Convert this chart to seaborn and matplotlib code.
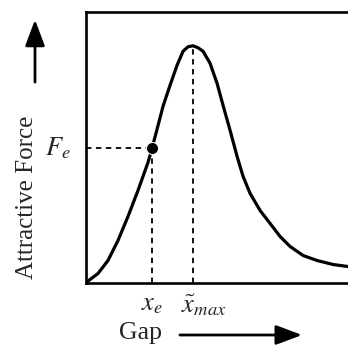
import numpy as np
import pandas as pd
import matplotlib.pyplot as plt
import matplotlib.patches as mpatches
import seaborn as sns

# curve (gap, attractive force), arbitrary units
gap = [0, 12, 22, 32, 42, 52, 62, 66, 71, 77, 84, 91, 97, 102, 107, 112, 117,
       124, 131, 137, 144, 151, 157, 164, 174, 184, 194, 204, 217, 231, 247,
       262, 270]
force = [0, 9, 22, 42, 66, 92, 120, 134, 153, 176, 197, 217, 231, 235.5, 236.5,
         234.5, 231, 219, 199, 177, 152, 126, 106, 89, 72, 59, 46, 36, 27, 22,
         18, 16, 14.5]

# marked points
x_e, f_e = 66, 134
x_max, f_max = 107, 236

df = pd.DataFrame({'gap': gap, 'force': force})

sns.set_style('white')
plt.rcParams['font.family'] = ['Liberation Serif', 'DejaVu Serif']
plt.rcParams['mathtext.fontset'] = 'stix'

fig = plt.figure(figsize=(3.48, 3.45), dpi=100)
ax = fig.add_axes([0.247, 0.181, 0.765, 0.785])

sns.lineplot(data=df, x='gap', y='force', ax=ax, color='black', lw=2.3)
sns.scatterplot(x=[x_e], y=[f_e], ax=ax, color='black', s=75, zorder=5)

# dashed guide lines
dash = (0, (3, 2.5))
ax.plot([0, x_e], [f_e, f_e], color='black', lw=1.3, ls=dash)
ax.plot([x_e, x_e], [0, f_e], color='black', lw=1.3, ls=dash)
ax.plot([x_max, x_max], [0, f_max], color='black', lw=1.3, ls=dash)

ax.set_xlim(0, 266)
ax.set_ylim(0, 270.5)
ax.set_xticks([])
ax.set_yticks([])
ax.set_xlabel('')
ax.set_ylabel('')
for s in ax.spines.values():
    s.set_color('black')
    s.set_linewidth(1.9)
ax.spines['right'].set_visible(False)

# symbols
ax.text(-28, f_e, r'$F_e$', fontsize=19, ha='center', va='center', clip_on=False)
ax.text(x_e, -22, r'$x_e$', fontsize=19, ha='center', va='center', clip_on=False)
ax.text(x_max - 12, -22, r'$\tilde{x}_{max}$', fontsize=19, ha='left', va='center',
        clip_on=False)

# axis titles with arrows
fig.text(0.078, 0.429, 'Attractive Force', rotation=90, fontsize=18,
         ha='center', va='center')
fig.text(0.405, 0.036, 'Gap', fontsize=18.5, ha='center', va='center')
head = '-|>,head_length=0.8,head_width=0.3'
fig.patches.append(mpatches.FancyArrowPatch(
    (0.1006, 0.754), (0.1006, 0.951), transform=fig.transFigure,
    arrowstyle=head, mutation_scale=20, lw=2, color='black'))
fig.patches.append(mpatches.FancyArrowPatch(
    (0.509, 0.029), (0.876, 0.029), transform=fig.transFigure,
    arrowstyle=head, mutation_scale=20, lw=2, color='black'))

fig.savefig('out.png', dpi=100)
